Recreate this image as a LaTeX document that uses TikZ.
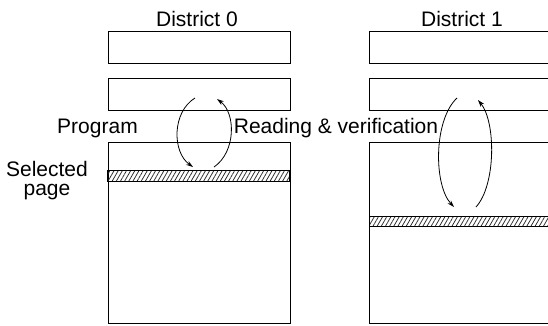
\documentclass[tikz,border=0pt]{standalone}
\usepackage{fontspec}
\setmainfont{Liberation Sans}
\usetikzlibrary{arrows.meta,patterns.meta}
\begin{document}
\begin{tikzpicture}[x=1pt,y=-1pt,
  box/.style={draw,line width=1.1pt,rectangle,inner sep=0pt,anchor=north west,minimum width=182pt},
  band/.style={box,minimum height=10.5pt,pattern={Lines[angle=60,distance=3.6pt,line width=0.75pt]},pattern color=black!85},
  lbl/.style={font=\fontsize{21}{24}\selectfont,inner sep=0pt,anchor=base},
  arc/.style={line width=0.8pt,-{Stealth[length=7pt,width=4.5pt]}}]
\useasboundingbox (0,0) rectangle (548,325);
% District 0
\node[box,minimum height=32pt] (t0) at (107.5,30.5) {};
\node[box,minimum height=32pt] (m0) at (107.5,77.5) {};
\node[box,minimum height=181pt] (b0) at (107.5,141.5) {};
\node[band] (s0) at (107.5,170.5) {};
% District 1
\node[box,minimum height=32pt] (t1) at (369,30.5) {};
\node[box,minimum height=32pt] (m1) at (369,77.5) {};
\node[box,minimum height=181pt] (b1) at (369,141.5) {};
\node[band] (s1) at (369,215.8) {};
% labels
\node[lbl] (d0) at (197,26) {District 0};
\node[lbl] (d1) at (462,26) {District 1};
\node[lbl] (pg) at (97.5,133) {Program};
\node[lbl] (rv) at (336,133) {Reading \& verification};
\node[lbl] (sel) at (47,176) {Selected};
\node[lbl] (pag) at (47,195) {page};
% arc ends
\coordinate (p0a) at (195,98);
\coordinate (p0b) at (193,167);
\coordinate (r0a) at (214,167);
\coordinate (r0b) at (217,99);
\coordinate (p1a) at (457,98);
\coordinate (p1b) at (454,207);
\coordinate (r1a) at (476,207);
\coordinate (r1b) at (478,100);
\draw[arc] (p0a) .. controls (172,112) and (172,152) .. (p0b);
\draw[arc] (r0a) .. controls (236,152) and (236,113) .. (r0b);
\draw[arc] (p1a) .. controls (433.5,120) and (433.5,185) .. (p1b);
\draw[arc] (r1a) .. controls (496,185) and (496,122) .. (r1b);
\end{tikzpicture}
\end{document}
